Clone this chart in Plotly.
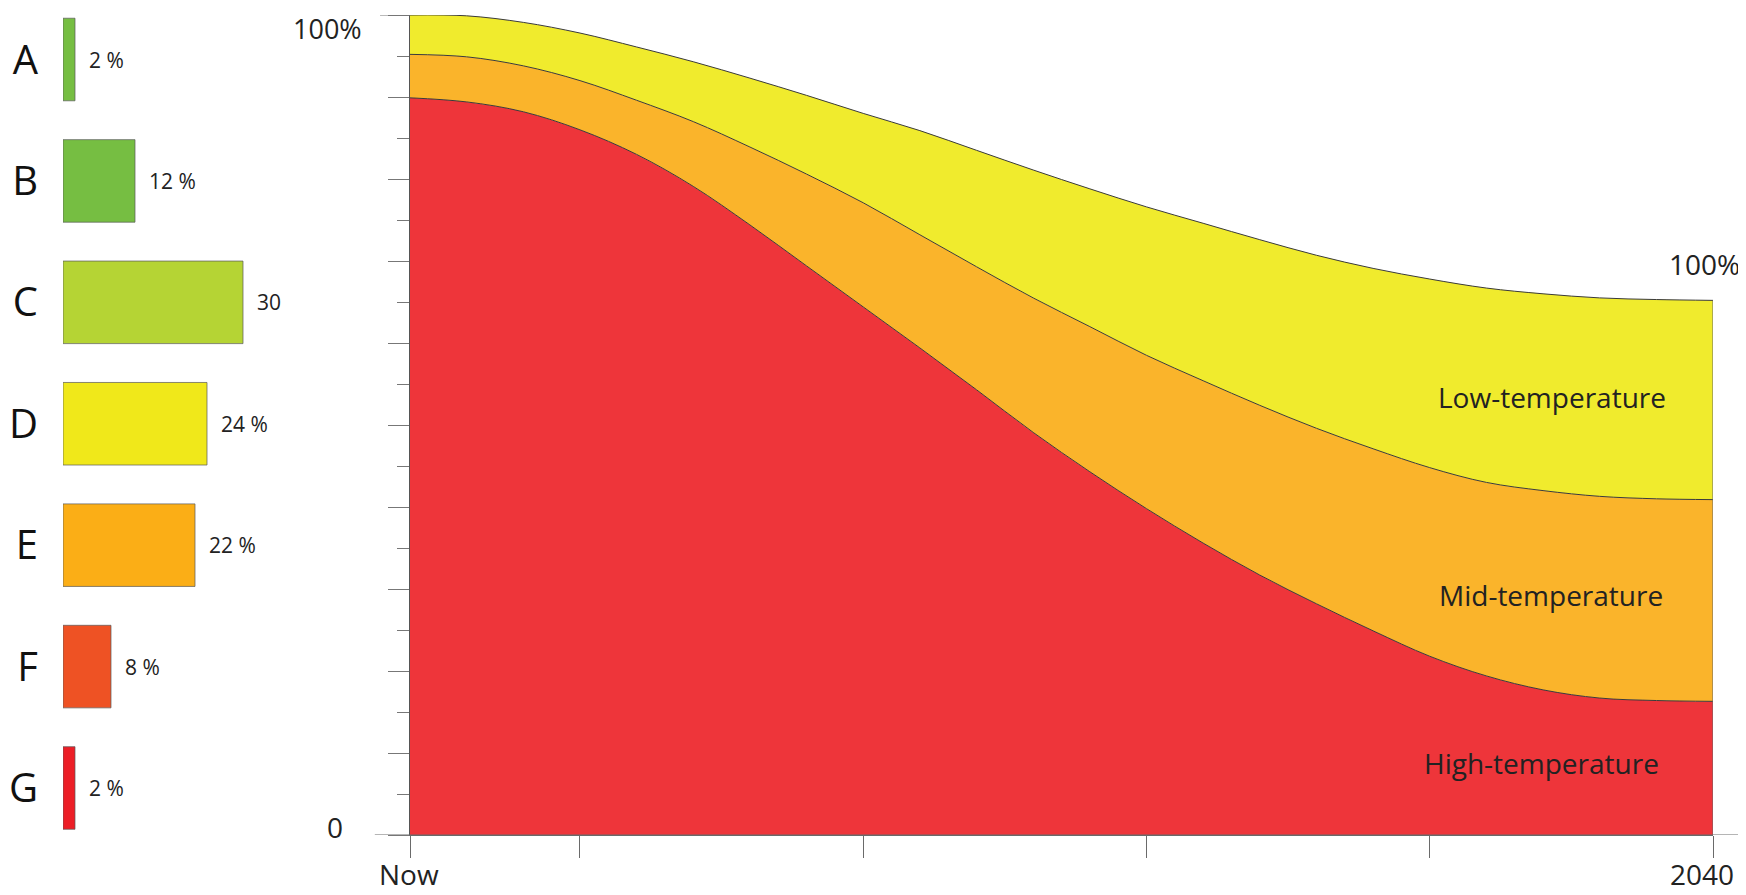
import plotly.graph_objects as go

# ---------------- data ----------------
years = list(range(2017, 2041))  # 2017 = "Now"
high = [89.9, 89.4, 88.2, 86.0, 83.0, 79.1, 74.4, 69.4, 64.4, 59.4, 54.3, 49.1,
        44.3, 39.8, 35.6, 31.7, 28.2, 24.9, 21.8, 19.4, 17.7, 16.7, 16.4, 16.3]
mid = [5.3, 5.5, 5.6, 6.0, 6.6, 7.9, 9.5, 11.2, 12.7, 13.8, 15.0, 16.4,
       17.7, 18.7, 19.8, 20.7, 21.4, 22.2, 23.0, 23.6, 24.3, 24.6, 24.6, 24.6]
low = [4.8, 5.0, 5.3, 5.8, 6.5, 7.3, 8.4, 9.6, 10.9, 12.7, 14.2, 15.6,
       16.8, 18.1, 19.2, 20.2, 21.1, 22.0, 23.0, 23.7, 24.0, 24.2, 24.3, 24.3]
layer_names = ["High-temperature", "Mid-temperature", "Low-temperature"]
layer_colors = ["#EE353A", "#FAB42B", "#F0EB2D"]

bar_cats = ["A", "B", "C", "D", "E", "F", "G"]
bar_vals = [2, 12, 30, 24, 22, 8, 2]
bar_labels = ["2 %", "12 %", "30", "24 %", "22 %", "8 %", "2 %"]
bar_colors = ["#76BE42", "#76BE42", "#B5D434", "#F0E81A", "#FBAE16", "#EE5224", "#EC1E26"]

x_tickvals = [2017, 2020, 2025, 2030, 2035, 2040]
x_ticktext = ["Now", "2040"]
y_major = list(range(0, 101, 10))
y_minor = list(range(5, 100, 10))

# page body has an 8px margin: figure covers reference pixels 8..1746 x 8..895
OFF = 8
W, H = 1746 - OFF, 895 - OFF
FONT = "Open Sans"
TXT = "#222222"

fig = go.Figure()

# stacked areas
for name, vals, col in zip(layer_names, [high, mid, low], layer_colors):
    fig.add_trace(go.Scatter(
        x=years, y=vals, name=name, stackgroup="one", mode="lines",
        line=dict(color="#3a3a3a", width=1, shape="spline", smoothing=1.0),
        fillcolor=col, hoverinfo="skip", xaxis="x", yaxis="y"))

# horizontal bars
fig.add_trace(go.Bar(
    y=bar_cats, x=bar_vals, orientation="h", xaxis="x2", yaxis="y2",
    marker=dict(color=bar_colors, line=dict(color="rgba(90,90,90,0.7)", width=1)),
    width=0.68, text=["\u00a0\u00a0" + t for t in bar_labels], textposition="outside",
    textfont=dict(family=FONT, size=21, color=TXT), cliponaxis=False,
    hoverinfo="skip"))

total_end = high[-1] + mid[-1] + low[-1]
right_major = [v for v in y_major if v <= total_end]
right_minor = [v for v in range(5, 100, 10) if v <= total_end]


def px_x(p):
    return (p - OFF) / W


def px_y(p):
    return 1 - (p - OFF) / H


# category pitch of the bar panel (reference pixels)
pitch = 121.4
top_cat = -0.5 + (OFF + 1.2) / pitch

fig.update_layout(
    width=W, height=H, margin=dict(l=0, r=0, t=0, b=0, pad=0),
    paper_bgcolor="white", plot_bgcolor="rgba(0,0,0,0)",
    showlegend=False, hovermode=False,
    xaxis=dict(domain=[px_x(410), px_x(1713)], range=[2017, 2040], anchor="y", automargin=False,
               showgrid=False, zeroline=False, showline=True, linecolor="#6a6a6a", linewidth=1,
               ticks="outside", ticklen=22, tickcolor="#6a6a6a", tickwidth=1,
               tickvals=x_tickvals, showticklabels=False),
    yaxis=dict(domain=[px_y(835), px_y(15)], range=[0, 100], anchor="x", automargin=False,
               showgrid=False, zeroline=False, showline=True, linecolor="#555555", linewidth=1,
               ticks="outside", ticklen=21, tickcolor="#777777", tickwidth=1,
               tickvals=y_major, showticklabels=False,
               minor=dict(tickvals=y_minor, ticks="outside", ticklen=12, tickcolor="#777777", tickwidth=1)),
    yaxis3=dict(overlaying="y", side="right", anchor="x", range=[0, 100], automargin=False,
                showgrid=False, zeroline=False, showline=False,
                ticks="outside", ticklen=20, tickcolor="#888888", tickwidth=1,
                tickvals=right_major, showticklabels=False,
                minor=dict(tickvals=right_minor, ticks="outside", ticklen=12, tickcolor="#888888", tickwidth=1)),
    xaxis2=dict(domain=[px_x(63), px_x(363)], range=[0, 50], anchor="y2", automargin=False,
                visible=False),
    yaxis2=dict(domain=[px_y(848.7), 1.0], range=[6.5, top_cat], anchor="x2", automargin=False,
                type="category", categoryarray=bar_cats, categoryorder="array",
                showgrid=False, zeroline=False, showline=False, ticks="",
                tickfont=dict(family=FONT, size=40, color="#111111"), ticklabelstandoff=24),
)

# right axis line for 2040 total
fig.add_shape(type="line", xref="x", yref="y", x0=2040, x1=2040, y0=0, y1=total_end,
              line=dict(color="#6a6a6a", width=1))
# extended baseline and top tick
fig.add_shape(type="line", xref="x domain", yref="y", x0=-0.027, x1=1.026, y0=0, y1=0,
              line=dict(color="#6a6a6a", width=1))
fig.add_shape(type="line", xref="x domain", yref="y", x0=-0.023, x1=0, y0=100, y1=100,
              line=dict(color="#777777", width=1))

annots = [
    dict(text="100%", x=px_x(327), y=1.0, size=27, ya="top"),
    dict(text="0", x=px_x(335), y=px_y(827), size=28, ya="middle"),
    dict(text="100%", x=px_x(1704), y=px_y(264), size=28, ya="middle"),
    dict(text=x_ticktext[0], x=px_x(409), y=0.0, size=28, ya="bottom"),
    dict(text=x_ticktext[1], x=px_x(1702), y=0.0, size=28, ya="bottom"),
    dict(text="Low-temperature", x=px_x(1552), y=px_y(397), size=28, ya="middle"),
    dict(text="Mid-temperature", x=px_x(1551), y=px_y(595), size=28, ya="middle"),
    dict(text="High-temperature", x=px_x(1541), y=px_y(763), size=28, ya="middle"),
]
for a in annots:
    fig.add_annotation(text=a["text"], x=a["x"], y=a["y"], xref="paper", yref="paper",
                       xanchor="center", yanchor=a["ya"], showarrow=False,
                       font=dict(family=FONT, size=a["size"], color=TXT))

fig.write_html("out.html")
